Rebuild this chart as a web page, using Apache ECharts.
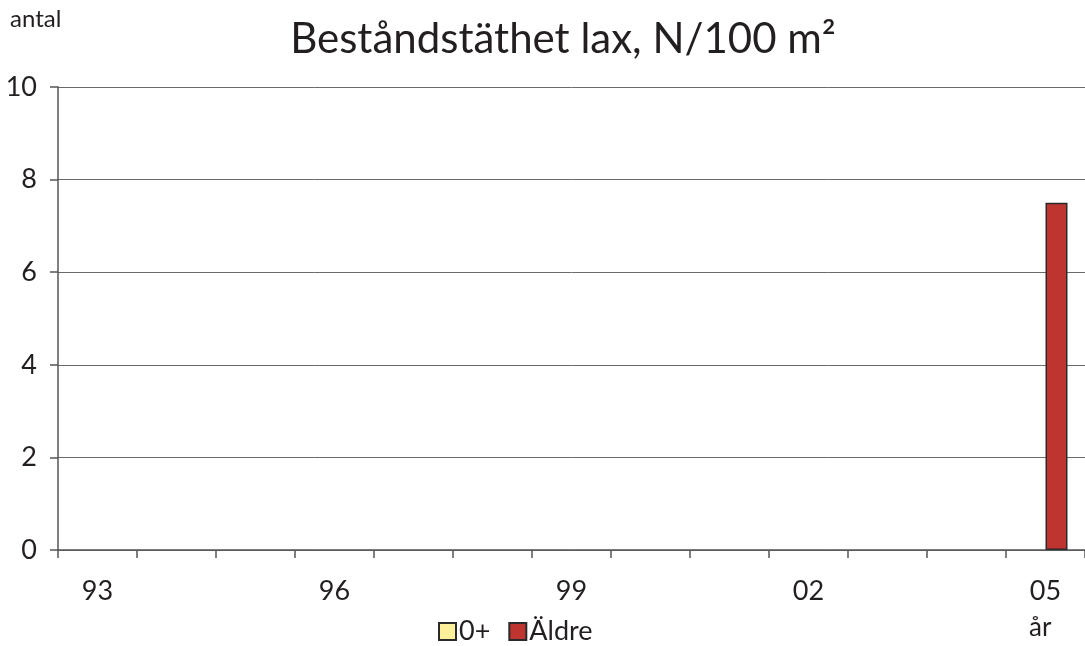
<!DOCTYPE html>
<html><head><meta charset="utf-8">
<script src="https://cdn.jsdelivr.net/npm/echarts@6/dist/echarts.min.js"></script>
<style>html,body{margin:0;padding:0;background:#fff}#c{width:1085px;height:646px}</style>
</head><body><div id="c"></div>
<script>
const years = ['93','94','95','96','97','98','99','00','01','02','03','04','05'];
const yngel = [null,null,null,null,null,null,null,null,null,null,null,null,null];
const aldre = [null,null,null,null,null,null,null,null,null,null,null,null,7.5];
const yTicks = [0,2,4,6,8,10];
const FONT = 'Lato';
const chart = echarts.init(document.getElementById('c'));
chart.setOption({
  animation:false,
  backgroundColor:'#fff',
  title:{text:'Beståndstäthet lax, N/100 m²',left:558,top:13,textAlign:'center',
    textStyle:{fontFamily:FONT,fontSize:42,fontWeight:'normal',color:'#231f20'}},
  graphic:[
    {type:'text',left:10,top:7,style:{text:'antal',font:'24px '+FONT,fill:'#231f20'}},
    {type:'text',left:1029,top:615,style:{text:'år',font:'26px '+FONT,fill:'#231f20'}}
  ],
  legend:{top:613,left:433,itemWidth:17,itemHeight:17,itemGap:18,icon:'rect',
    textStyle:{fontFamily:FONT,fontSize:27,color:'#231f20',padding:[0,0,0,-2]},
    data:['0+','Äldre']},
  grid:{left:58,top:87,width:1034,height:463},
  xAxis:{type:'category',data:years,boundaryGap:true,
    axisLine:{lineStyle:{color:'#555',width:1.5}},
    axisTick:{show:true,interval:0,length:8,inside:false,lineStyle:{color:'#555',width:1.5}},
    axisLabel:{interval:2,margin:28,fontFamily:FONT,fontSize:27,color:'#231f20'}},
  yAxis:{type:'value',min:0,max:10,interval:2,
    axisLine:{show:true,lineStyle:{color:'#555',width:1.5}},
    axisTick:{show:true,length:8,lineStyle:{color:'#555',width:1.5}},
    axisLabel:{margin:21,fontFamily:FONT,fontSize:27,color:'#231f20'},
    splitLine:{lineStyle:{color:'#6a6a6a',width:1}}},
  series:[
    {name:'0+',type:'bar',data:yngel,barWidth:22,barGap:'0%',
      itemStyle:{color:'#fdf09a',borderColor:'#2a2a2a',borderWidth:1.5}},
    {name:'Äldre',type:'bar',data:aldre,barWidth:22,barGap:'0%',
      itemStyle:{color:'#be3530',borderColor:'#2a2a2a',borderWidth:1.5}}
  ]
});
</script></body></html>
